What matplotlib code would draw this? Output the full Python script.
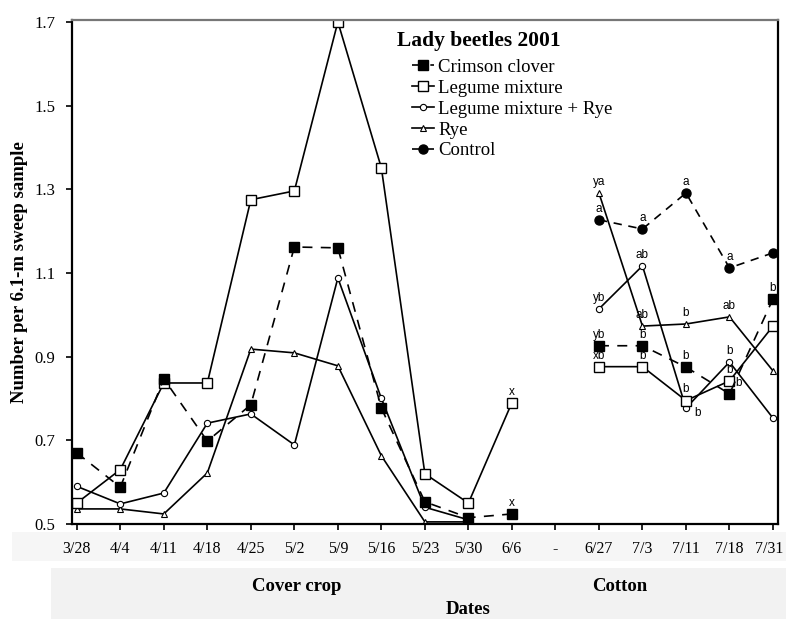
import numpy as np
import matplotlib
matplotlib.use('Agg')
from matplotlib import pyplot as plt
from matplotlib.lines import Line2D
from matplotlib.patches import Rectangle
from matplotlib.transforms import ScaledTranslation

# dates on the x axis
cover_dates = ['3/28', '4/4', '4/11', '4/18', '4/25', '5/2', '5/9',
               '5/16', '5/23', '5/30', '6/6']
cotton_dates = ['6/27', '7/3', '7/11', '7/18', '7/31']
tick_labels = cover_dates + ['-'] + cotton_dates

# cover crop period
crimson_cover = [0.67, 0.588, 0.847, 0.698, 0.785, 1.162, 1.16, 0.777, 0.553, 0.515, 0.524]
legume_cover = [0.55, 0.63, 0.837, 0.837, 1.275, 1.296, 1.70, 1.351, 0.62, 0.55, 0.79]
legrye_cover = [0.59, 0.548, 0.574, 0.741, 0.763, 0.689, 1.088, 0.80, 0.54, 0.51]
rye_cover = [0.536, 0.536, 0.524, 0.622, 0.918, 0.909, 0.878, 0.663, 0.505, 0.505]

# cotton period
crimson_cot = [0.926, 0.926, 0.875, 0.811, 1.038]
legume_cot = [0.876, 0.876, 0.795, 0.842, 0.973]
legrye_cot = [1.014, 1.117, 0.777, 0.887, 0.753]
rye_cot = [1.291, 0.973, 0.978, 0.995, 0.866]
control_cot = [1.227, 1.205, 1.291, 1.112, 1.148]

# significance letters
crimson_let = ['yb', 'b', 'b', 'b', 'b']
legume_let = ['xb', 'b', 'b', 'b', '']
legrye_let = ['yb', 'ab', 'b', 'b', '']
rye_let = ['ya', 'ab', 'b', 'ab', '']
control_let = ['a', 'a', 'a', 'a', '']
crimson_6_6 = 'x'
legume_6_6 = 'x'

serif = ['Liberation Serif', 'DejaVu Serif']
plt.rcParams['font.family'] = serif

fig = plt.figure()
fig.set_dpi(100)
fig.set_size_inches(7.86, 6.19)

# grey band under the chart (scan background)
fig.patches.append(Rectangle((0.015, 0.093), 0.985, 0.048, transform=fig.transFigure,
                             fc='#f6f6f6', ec='none', zorder=-5))
fig.patches.append(Rectangle((0.065, 0.0), 0.935, 0.082, transform=fig.transFigure,
                             fc='#f2f2f2', ec='none', zorder=-5))

ax = fig.add_axes([0.0916, 0.1535, 0.8985, 0.8145])

x_cover = np.arange(len(cover_dates))
x_cot = np.arange(len(cotton_dates)) + len(cover_dates) + 1

lw = 1.2
styles = {
    'crimson': dict(color='k', ls=(0, (6, 5)), lw=lw, marker='s', ms=6.5,
                    mfc='k', mec='k'),
    'legume': dict(color='k', ls='-', lw=lw, marker='s', ms=6.5,
                   mfc='white', mec='k', mew=1.0),
    'legrye': dict(color='k', ls='-', lw=lw, marker='o', ms=4.5,
                   mfc='white', mec='k', mew=0.8),
    'rye': dict(color='k', ls='-', lw=lw, marker='^', ms=4.5,
                mfc='white', mec='k', mew=0.8),
    'control': dict(color='k', ls=(0, (5, 4)), lw=lw, marker='o', ms=6.5,
                    mfc='k', mec='k'),
}

ax.plot(x_cover[:len(rye_cover)], rye_cover, **styles['rye'])
ax.plot(x_cover[:len(legrye_cover)], legrye_cover, **styles['legrye'])
ax.plot(x_cover, legume_cover, **styles['legume'])
ax.plot(x_cover, crimson_cover, **styles['crimson'])

ax.plot(x_cot, rye_cot, **styles['rye'])
ax.plot(x_cot, legrye_cot, **styles['legrye'])
ax.plot(x_cot, legume_cot, **styles['legume'])
ax.plot(x_cot, crimson_cot, **styles['crimson'])
ax.plot(x_cot, control_cot, **styles['control'])

lab_font = dict(family=['Liberation Sans', 'DejaVu Sans'], fontsize=8.5,
                ha='center', va='center')


def letters(xs, ys, labs, offsets=None):
    for i, (x, y, t) in enumerate(zip(xs, ys, labs)):
        if not t:
            continue
        dx, dy = (0, 8)
        if offsets and i in offsets:
            dx, dy = offsets[i]
        ax.annotate(t, (x, y), xytext=(dx, dy), textcoords='offset points',
                    **lab_font)


letters(x_cot, crimson_cot, crimson_let, {3: (6.5, 7.5)})
letters(x_cot, legume_cot, legume_let)
letters(x_cot, legrye_cot, legrye_let, {2: (8.5, -3.5)})
letters(x_cot, rye_cot, rye_let)
letters(x_cot, control_cot, control_let)
letters([x_cover[-1]], [crimson_cover[-1]], [crimson_6_6])
letters([x_cover[-1]], [legume_cover[-1]], [legume_6_6])

ax.set_xlim(-0.11, 16.12)
ax.set_ylim(0.5, 1.705)
ax.set_xticks(np.arange(len(tick_labels)))
ax.set_xticklabels(tick_labels)
ax.set_yticks([0.5, 0.7, 0.9, 1.1, 1.3, 1.5, 1.7])
ax.set_yticklabels(['0.5', '0.7', '0.9', '1.1', '1.3', '1.5', '1.7'])
ax.tick_params(labelsize=12, direction='out', length=4, width=1.2, pad=8)
ax.tick_params(axis='x', labelsize=11.5)
# last date label sits against the right edge
last = ax.get_xticklabels()[-1]
last.set_transform(last.get_transform() + ScaledTranslation(-3 / 72, 0, fig.dpi_scale_trans))
for s in ['left', 'bottom', 'right']:
    ax.spines[s].set_linewidth(1.6)
ax.spines['top'].set_linewidth(1.6)
ax.spines['top'].set_color('#777777')

ax.set_ylabel('Number per 6.1-m sweep sample', fontsize=13.5, fontweight='bold')
ax.yaxis.set_label_coords(-0.062, 0.5)

handles = [Line2D([], [], **styles[k]) for k in
           ['crimson', 'legume', 'legrye', 'rye', 'control']]
names = ['Crimson clover', 'Legume mixture', 'Legume mixture + Rye', 'Rye', 'Control']
ax.text(0.46, 0.958, 'Lady beetles 2001', transform=ax.transAxes, fontsize=15.5,
        fontweight='bold', ha='left', va='center')
ax.legend(handles, names, loc='upper left', bbox_to_anchor=(0.4816, 0.9226),
          frameon=False, fontsize=13.5, handlelength=1.15, handletextpad=0.25,
          labelspacing=0.2, borderpad=0, borderaxespad=0)

fig.text(0.378, 0.052, 'Cover crop', fontsize=13.5, fontweight='bold',
         ha='center', va='center')
fig.text(0.789, 0.052, 'Cotton', fontsize=13.5, fontweight='bold',
         ha='center', va='center')
fig.text(0.595, 0.016, 'Dates', fontsize=13.5, fontweight='bold',
         ha='center', va='center')

fig.savefig('out.png', dpi=100)
